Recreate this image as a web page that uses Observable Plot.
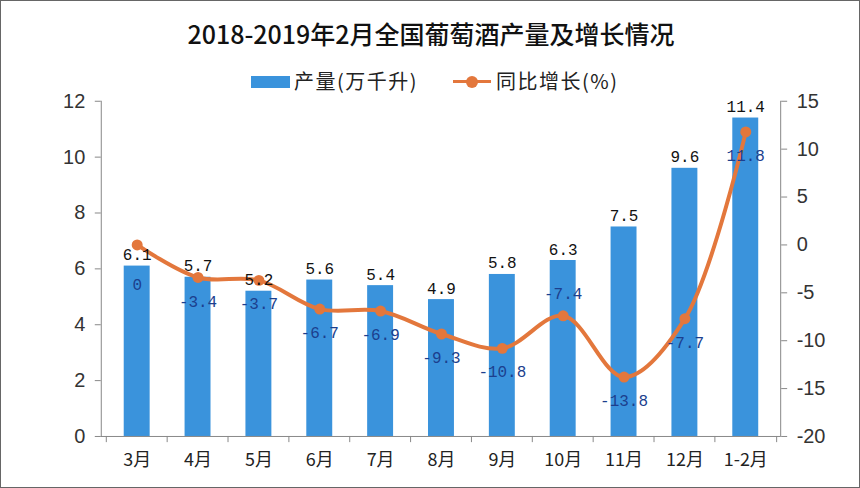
<!DOCTYPE html>
<html><head><meta charset="utf-8">
<script src="https://cdn.jsdelivr.net/npm/d3@7"></script>
<script src="https://cdn.jsdelivr.net/npm/@observablehq/plot@0.6"></script>
<style>
body{margin:0;background:#fff}
#wrap{position:relative;width:860px;height:488px;box-sizing:border-box;border:1px solid #666;overflow:hidden;background:#fff}
#title{position:absolute;left:0;top:14px;width:860px;text-align:center;font:500 25px "Noto Sans CJK SC",sans-serif;color:#111;white-space:nowrap}
.leg{position:absolute;top:66px;font:20px "Noto Sans CJK SC",sans-serif;color:#222;white-space:nowrap;line-height:28px;letter-spacing:1.5px}
#chart{position:absolute;left:0;top:0}
</style></head>
<body>
<div id="wrap">
  <div id="chart"></div>
  <div id="title">2018-2019年2月全国葡萄酒产量及增长情况</div>
  <div id="legend"></div>
</div>
<script>
const months = ["3月","4月","5月","6月","7月","8月","9月","10月","11月","12月","1-2月"];
const production = [6.1,5.7,5.2,5.6,5.4,4.9,5.8,6.3,7.5,9.6,11.4];
const growth = [0,-3.4,-3.7,-6.7,-6.9,-9.3,-10.8,-7.4,-13.8,-7.7,11.8];
const leftTicks = [0,2,4,6,8,10,12];
const rightTicks = [-20,-15,-10,-5,0,5,10,15];
const seriesNames = ["产量(万千升)","同比增长(%)"];

const barColor = "#3a93dc", lineColor = "#e3773c", labelBlue = "#1c3f8e";
const W = 860, H = 488, mL = 100, mR = 79, mT = 100, mB = 52;
const step = (W - mL - mR) / months.length;

// map right axis (-20..15) onto left axis (0..12)
const toLeft = v => (v + 20) / 35 * 12;
const fromLeft = y => Math.round(y * 35 / 12 - 20);

const data = months.map((m, i) => ({m, p: production[i], g: growth[i], gy: toLeft(growth[i])}));
const above = new Set(["10月"]);
const deep = new Set(["3月"]);

const numFont = "'Liberation Mono','DejaVu Sans Mono',monospace";
const tickFont = "'Liberation Sans Narrow','Liberation Sans',sans-serif";

const plot = Plot.plot({
  width: W, height: H,
  marginTop: mT, marginBottom: mB, marginLeft: mL, marginRight: mR,
  style: {background: "transparent", overflow: "visible"},
  x: {domain: months, paddingInner: 0.58, paddingOuter: 0.29},
  y: {domain: [0, 12]},
  marks: [
    Plot.barY(data, {x: "m", y: "p", fill: barColor}),
    Plot.frame({anchor: "left", stroke: "#888"}),
    Plot.frame({anchor: "right", stroke: "#888"}),
    Plot.ruleY([0], {stroke: "#888"}),
    Plot.ruleX(months, {x: d => d, y1: 0, y2: -0.22, dx: -step / 2, stroke: "#888", clip: false}),
    Plot.ruleX([months[months.length - 1]], {x: d => d, y1: 0, y2: -0.22, dx: step / 2, stroke: "#888"}),
    Plot.axisY(leftTicks, {anchor: "left", tickSize: 6, tickPadding: 10, fontSize: 20, fontFamily: tickFont, fill: "#333", stroke: "#888", label: null}),
    Plot.axisY(rightTicks.map(toLeft), {anchor: "right", tickSize: 6, tickPadding: 10, fontSize: 20, fontFamily: tickFont, fill: "#333", stroke: "#888", label: null, tickFormat: d => String(fromLeft(d))}),
    Plot.axisX({tickSize: 0, tickPadding: 17, fontSize: 18, fontFamily: "'Noto Sans CJK SC',sans-serif", fill: "#222", label: null}),
    Plot.line(data, {x: "m", y: "gy", stroke: lineColor, strokeWidth: 4, curve: "catmull-rom"}),
    Plot.dot(data, {x: "m", y: "gy", r: 5.5, fill: lineColor, stroke: null}),
    Plot.text(data, {x: "m", y: "p", text: d => String(d.p), dy: -6, lineAnchor: "bottom", fontSize: 16, fontFamily: numFont, fill: "#111"}),
    Plot.text(data.filter(d => !above.has(d.m) && !deep.has(d.m)), {x: "m", y: "gy", text: d => String(d.g), dy: 24, fontSize: 16, fontFamily: numFont, fill: labelBlue}),
    Plot.text(data.filter(d => deep.has(d.m)), {x: "m", y: "gy", text: d => String(d.g), dy: 40, fontSize: 16, fontFamily: numFont, fill: labelBlue}),
    Plot.text(data.filter(d => above.has(d.m)), {x: "m", y: "gy", text: d => String(d.g), dy: -22, fontSize: 16, fontFamily: numFont, fill: labelBlue})
  ]
});
document.getElementById("chart").appendChild(plot);

const leg = document.getElementById("legend");
leg.innerHTML =
  `<div style="position:absolute;left:250px;top:75px;width:39px;height:12px;background:${barColor}"></div>` +
  `<div class="leg" style="left:293px">${seriesNames[0]}</div>` +
  `<div style="position:absolute;left:452px;top:79px;width:38px;height:3px;background:${lineColor}"></div>` +
  `<div style="position:absolute;left:465px;top:74.5px;width:12px;height:12px;border-radius:50%;background:${lineColor}"></div>` +
  `<div class="leg" style="left:495px">${seriesNames[1]}</div>`;
</script>
</body></html>
